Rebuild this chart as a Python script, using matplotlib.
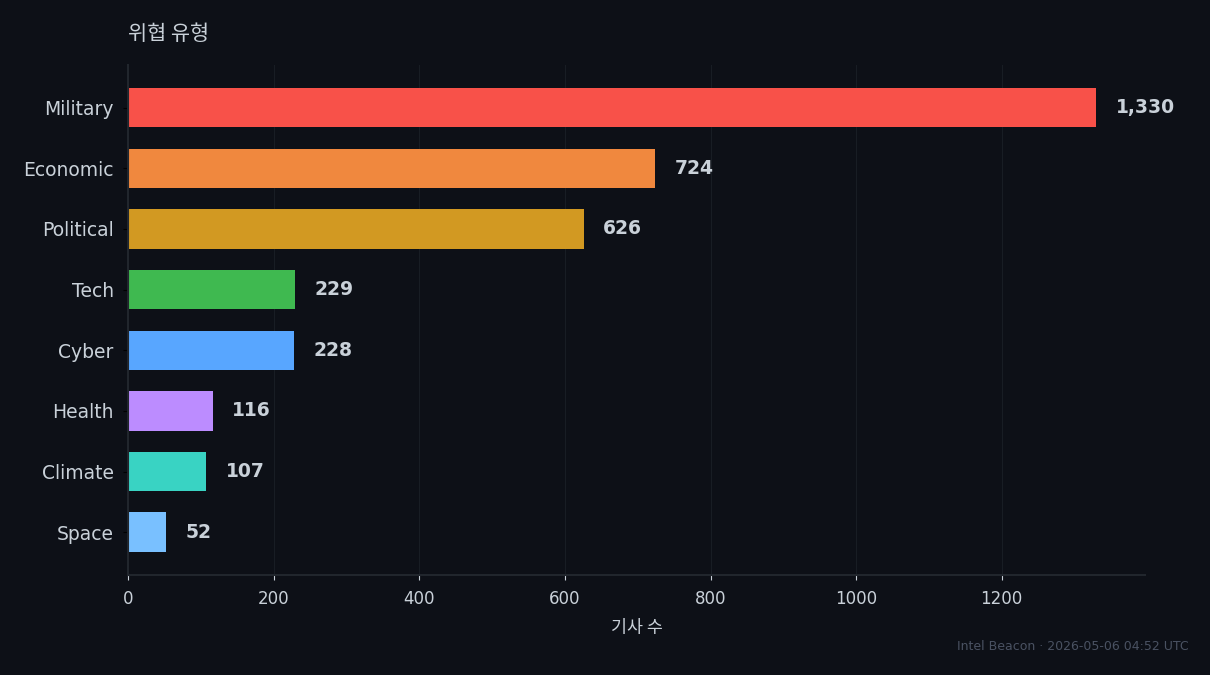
import matplotlib
matplotlib.use("Agg")
import matplotlib.pyplot as plt

plt.rcParams['font.family'] = ['DejaVu Sans', 'Noto Sans CJK KR']

categories = ["Military", "Economic", "Political", "Tech", "Cyber", "Health", "Climate", "Space"]
counts = [1330, 724, 626, 229, 228, 116, 107, 52]
colors = ["#f85149", "#f0883e", "#d29922", "#3fb950", "#58a6ff", "#bc8cff", "#39d3c3", "#79c0ff"]

bg = "#0d1017"
text_c = "#c9d1d9"
edge_c = "#21262d"

fig, ax = plt.subplots(figsize=(12.1, 6.75), dpi=100)
fig.patch.set_facecolor(bg)
ax.set_facecolor(bg)

y = list(range(len(categories)))
ax.barh(y, counts, color=colors, height=0.65)
ax.set_yticks(y)
ax.set_yticklabels(categories)
ax.invert_yaxis()

top = max(counts)
for yi, v in zip(y, counts):
    ax.text(v + top * 0.02, yi, f"{v:,}", va="center", ha="left",
            color=text_c, fontsize=13.5, fontweight="bold")

ax.set_xlim(0, top * 1.05)
ax.grid(axis="x", color=edge_c, alpha=0.6, linewidth=0.8)
ax.set_axisbelow(True)

for s in ["top", "right"]:
    ax.spines[s].set_visible(False)
for s in ["left", "bottom"]:
    ax.spines[s].set_color(edge_c)
    ax.spines[s].set_linewidth(1.5)

ax.tick_params(axis="y", colors="black", labelcolor=text_c, labelsize=13.5, pad=7)
ax.tick_params(axis="x", colors=text_c, labelcolor=text_c, labelsize=12, pad=7)

ax.set_title("위협 유형", loc="left", color=text_c, fontsize=15,
             family=["Noto Sans CJK KR", "DejaVu Sans"], pad=17.5)
ax.set_xlabel("기사 수", color=text_c, fontsize=12.5, labelpad=8.5,
              family=["Noto Sans CJK KR", "DejaVu Sans"])

fig.text(0.982, 0.032, "Intel Beacon · 2026-05-06 04:52 UTC", ha="right", va="bottom",
         color="#4a5262", fontsize=9)

fig.subplots_adjust(left=0.106, right=0.946, top=0.904, bottom=0.148)
fig.savefig("out.png", dpi=100, facecolor=bg)
